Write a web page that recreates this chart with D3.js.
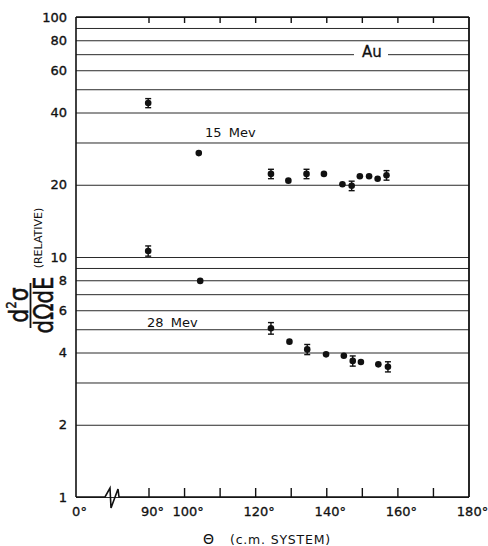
<!DOCTYPE html>
<html>
<head>
<meta charset="utf-8">
<script src="https://cdn.jsdelivr.net/npm/d3@7"></script>
<style>
  html, body { margin: 0; padding: 0; background: #fff; }
  svg { display: block; }
  text { font-family: "DejaVu Sans", "Liberation Sans", sans-serif; fill: #111; }
</style>
</head>
<body>
<svg id="chart" width="488" height="546"></svg>
<script>
// ---- data ----
const angles15 = [89, 104, 124.3, 129.2, 134.3, 139.2, 144.4, 147, 149.3, 151.9, 154.3, 156.8];
const values15 = [43.8, 27.1, 22.2, 20.8, 22.2, 22.2, 20.1, 19.8, 21.7, 21.7, 21.2, 21.9];
const errors15 = [1.9, 0, 1.0, 0, 1.0, 0, 0, 0.9, 0, 0, 0, 1.0];

const angles28 = [89, 104.4, 124.3, 129.5, 134.5, 139.8, 144.8, 147.3, 149.6, 154.5, 157.2];
const values28 = [10.6, 7.95, 5.05, 4.44, 4.12, 3.93, 3.88, 3.69, 3.65, 3.57, 3.49];
const errors28 = [0.52, 0, 0.28, 0, 0.2, 0, 0, 0.18, 0, 0, 0.17];

const gridValues = [1,2,3,4,5,6,7,8,9,10,20,30,40,50,60,70,80,90,100];
const yLabelValues = [1,2,4,6,8,10,20,40,60,80,100];
const xTickMarks = [90,100,110,120,130,140,150,160,170];
const xLabelValues = [0,90,100,120,140,160,180];
const seriesLabels = ["15 Mev", "28 Mev"];
const targetLabel = "Au";

// ---- layout ----
const svg = d3.select("#chart");
const L = 76, R = 469, T = 17, B = 497;

const x = d3.scaleLinear().domain([0, 90, 180]).range([L, 149, R]);
const y = d3.scaleLog().domain([1, 100]).range([B, T]);

// gridlines + y labels via axis
const yGrid = svg.append("g").attr("transform", `translate(${L},0)`)
  .call(d3.axisLeft(y).tickValues(gridValues).tickSize(-(R - L)).tickFormat(""));
yGrid.select(".domain").remove();
yGrid.selectAll(".tick line").attr("stroke", "#2a2a2a").attr("stroke-width", 1);

const yLab = svg.append("g").attr("transform", `translate(${L},0)`)
  .call(d3.axisLeft(y).tickValues(yLabelValues).tickSize(0).tickPadding(9).tickFormat(d3.format("d")));
yLab.select(".domain").remove();
yLab.selectAll("text").attr("font-size", 13).attr("font-family", "DejaVu Sans")
  .attr("fill", "#111").attr("stroke", "#111").attr("stroke-width", 0.35);

// frame
const frame = svg.append("g").attr("fill", "none").attr("stroke", "#111").attr("stroke-width", 1.6);
frame.append("line").attr("x1", L).attr("x2", L).attr("y1", T).attr("y2", B);
frame.append("line").attr("x1", R).attr("x2", R).attr("y1", T).attr("y2", B).attr("stroke-width", 1.8);
frame.append("line").attr("x1", L).attr("x2", R).attr("y1", T).attr("y2", T);
// bottom axis with break
frame.append("path").attr("d",
  `M${L},${B} L105,${B} L110,488 L111,508 L118,489 L119,${B} L${R},${B}`)
  .attr("stroke-linejoin", "miter");

// tick marks (inward) on bottom and top, placed by the x scale
const tickG = svg.append("g").attr("stroke", "#111").attr("stroke-width", 1.4);
tickG.selectAll("line.bt").data(xTickMarks).join("line").attr("class", "bt")
  .attr("x1", d => x(d)).attr("x2", d => x(d)).attr("y1", B).attr("y2", B - 9);
tickG.selectAll("line.tt").data(xTickMarks).join("line").attr("class", "tt")
  .attr("x1", d => x(d)).attr("x2", d => x(d)).attr("y1", T).attr("y2", T + 6);

// bottom labels
const xl = svg.append("g").attr("transform", `translate(0,${B})`)
  .call(d3.axisBottom(x).tickValues(xLabelValues).tickSize(0).tickPadding(10).tickFormat(d => d + "°"));
xl.select(".domain").remove();
xl.selectAll("text").attr("font-size", 13).attr("font-family", "DejaVu Sans")
  .attr("fill", "#111").attr("stroke", "#111").attr("stroke-width", 0.3).attr("dx", 3);

// data
function drawSeries(angles, values, errors) {
  const g = svg.append("g");
  const data = angles.map((a, i) => ({a, v: values[i], e: errors[i]}));
  const eb = data.filter(d => d.e > 0);
  g.selectAll("line.eb").data(eb).join("line").attr("class", "eb")
    .attr("x1", d => x(d.a)).attr("x2", d => x(d.a))
    .attr("y1", d => y(d.v - d.e)).attr("y2", d => y(d.v + d.e))
    .attr("stroke", "#111").attr("stroke-width", 1.4);
  g.selectAll("line.capt").data(eb).join("line").attr("class", "capt")
    .attr("x1", d => x(d.a) - 3).attr("x2", d => x(d.a) + 3)
    .attr("y1", d => y(d.v + d.e)).attr("y2", d => y(d.v + d.e))
    .attr("stroke", "#111").attr("stroke-width", 1.4);
  g.selectAll("line.capb").data(eb).join("line").attr("class", "capb")
    .attr("x1", d => x(d.a) - 3).attr("x2", d => x(d.a) + 3)
    .attr("y1", d => y(d.v - d.e)).attr("y2", d => y(d.v - d.e))
    .attr("stroke", "#111").attr("stroke-width", 1.4);
  g.selectAll("circle").data(data).join("circle")
    .attr("cx", d => x(d.a)).attr("cy", d => y(d.v)).attr("r", 3.3)
    .attr("fill", "#111");
}
drawSeries(angles15, values15, errors15);
drawSeries(angles28, values28, errors28);

// annotations
svg.append("text").attr("x", 205).attr("y", 137).attr("font-size", 13)
  .attr("word-spacing", 3).text(seriesLabels[0]);
svg.append("text").attr("x", 147).attr("y", 327).attr("font-size", 13)
  .attr("word-spacing", 3).text(seriesLabels[1]);
svg.append("rect").attr("x", 354).attr("y", 45).attr("width", 34).attr("height", 14).attr("fill", "#fff");
svg.append("text").attr("x", 372).attr("y", 57).attr("font-size", 15)
  .attr("text-anchor", "middle").attr("stroke", "#111").attr("stroke-width", 0.3).text(targetLabel);

// y-axis label (rotated fraction)
const yl = svg.append("g").attr("transform", "translate(0,305) rotate(-90)");
const num = yl.append("text").attr("x", 0).attr("y", 28).attr("font-size", 26)
  .attr("text-anchor", "middle").attr("transform", "scale(0.85,1)")
  .attr("stroke", "#111").attr("stroke-width", 0.5);
num.append("tspan").text("d");
num.append("tspan").attr("font-size", 14).attr("dy", -12).text("2");
num.append("tspan").attr("dy", 12).text("σ");
yl.append("line").attr("x1", -23).attr("x2", 22).attr("y1", 30.5).attr("y2", 30.5)
  .attr("stroke", "#111").attr("stroke-width", 1.8);
yl.append("text").attr("x", 0).attr("y", 53).attr("font-size", 26)
  .attr("text-anchor", "middle").attr("transform", "scale(0.82,1)")
  .attr("stroke", "#111").attr("stroke-width", 0.5).text("dΩdE");
yl.append("text").attr("x", 67).attr("y", 42).attr("font-size", 11)
  .attr("text-anchor", "middle").text("(RELATIVE)");

// x-axis label
svg.append("text").attr("x", 203).attr("y", 544).attr("font-size", 14).text("Θ");
svg.append("text").attr("x", 230).attr("y", 544).attr("font-size", 12.5)
  .attr("letter-spacing", 0.8).text("(c.m. SYSTEM)");
</script>
</body>
</html>
